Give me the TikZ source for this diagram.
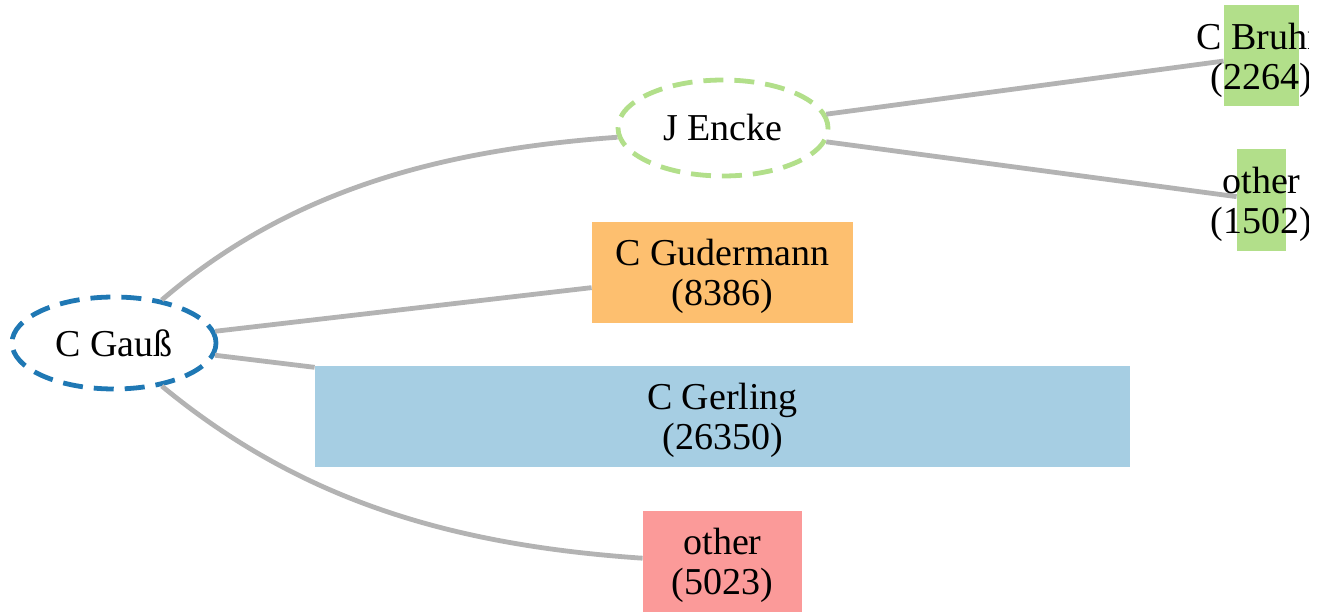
\documentclass[tikz,border=0pt]{standalone}
\usepackage{fontspec}
\setmainfont{Liberation Serif}
\usetikzlibrary{shapes.geometric}

\definecolor{edgegray}{RGB}{179,179,179}
\definecolor{gaussblue}{HTML}{1F78B4}
\definecolor{lightgreen}{HTML}{B2DF8A}
\definecolor{lightblue}{HTML}{A6CEE3}
\definecolor{lightorange}{HTML}{FDBF6F}
\definecolor{lightred}{HTML}{FB9A99}

\tikzset{
  advisor/.style={ellipse, draw, line width=2.4pt, dash pattern=on 10pt off 5.5pt,
    fill=white, inner sep=0pt, font=\fontsize{19}{20}\selectfont},
  student/.style={rectangle, inner sep=0pt, minimum height=50.5pt},
  namelbl/.style={align=center, inner sep=0pt, yshift=-2pt,
    font=\fontsize{19}{20}\selectfont},
  link/.style={draw=edgegray, line width=2.4pt},
}

\begin{document}
\begin{tikzpicture}[x=0.5pt, y=-0.5pt]
  \useasboundingbox (0,0) rectangle (1318,615);
  \clip (0,0) rectangle (1308,615);

  % advisors
  \node[advisor, draw=gaussblue, minimum width=102pt, minimum height=46pt] (gauss) at (114,343) {C Gauß};
  \node[advisor, draw=lightgreen, minimum width=105pt, minimum height=48pt] (encke) at (723,128) {J Encke};

  % students
  \node[student, fill=lightorange, minimum width=130.5pt] (gudermann) at (722.5,272.5) {};
  \node[student, fill=lightblue, minimum width=407.5pt] (gerling) at (722.5,416.5) {};
  \node[student, fill=lightred, minimum width=79.5pt] (othergauss) at (722.5,561) {};
  \node[student, fill=lightgreen, minimum width=37.5pt] (bruhn) at (1261.5,56) {};
  \node[student, fill=lightgreen, minimum width=24.5pt] (otherencke) at (1261.5,200) {};

  % links
  \draw[link] (gauss.42) .. controls (290,190) and (440,150) .. (encke.185);
  \draw[link] (gauss) -- (gudermann);
  \draw[link] (gauss) -- (gerling);
  \draw[link] (gauss.-42) .. controls (300,500) and (450,545) .. (othergauss.178);
  \draw[link] (encke) -- (bruhn);
  \draw[link] (encke) -- (otherencke);

  % labels
  \node[namelbl] (gudermann-l) at (gudermann) {C Gudermann\\(8386)};
  \node[namelbl] (gerling-l) at (gerling) {C Gerling\\(26350)};
  \node[namelbl] (othergauss-l) at (othergauss) {other\\(5023)};
  \node[namelbl] (bruhn-l) at (bruhn) {C Bruhn\\(2264)};
  \node[namelbl] (otherencke-l) at (otherencke) {other\\(1502)};
\end{tikzpicture}
\end{document}
